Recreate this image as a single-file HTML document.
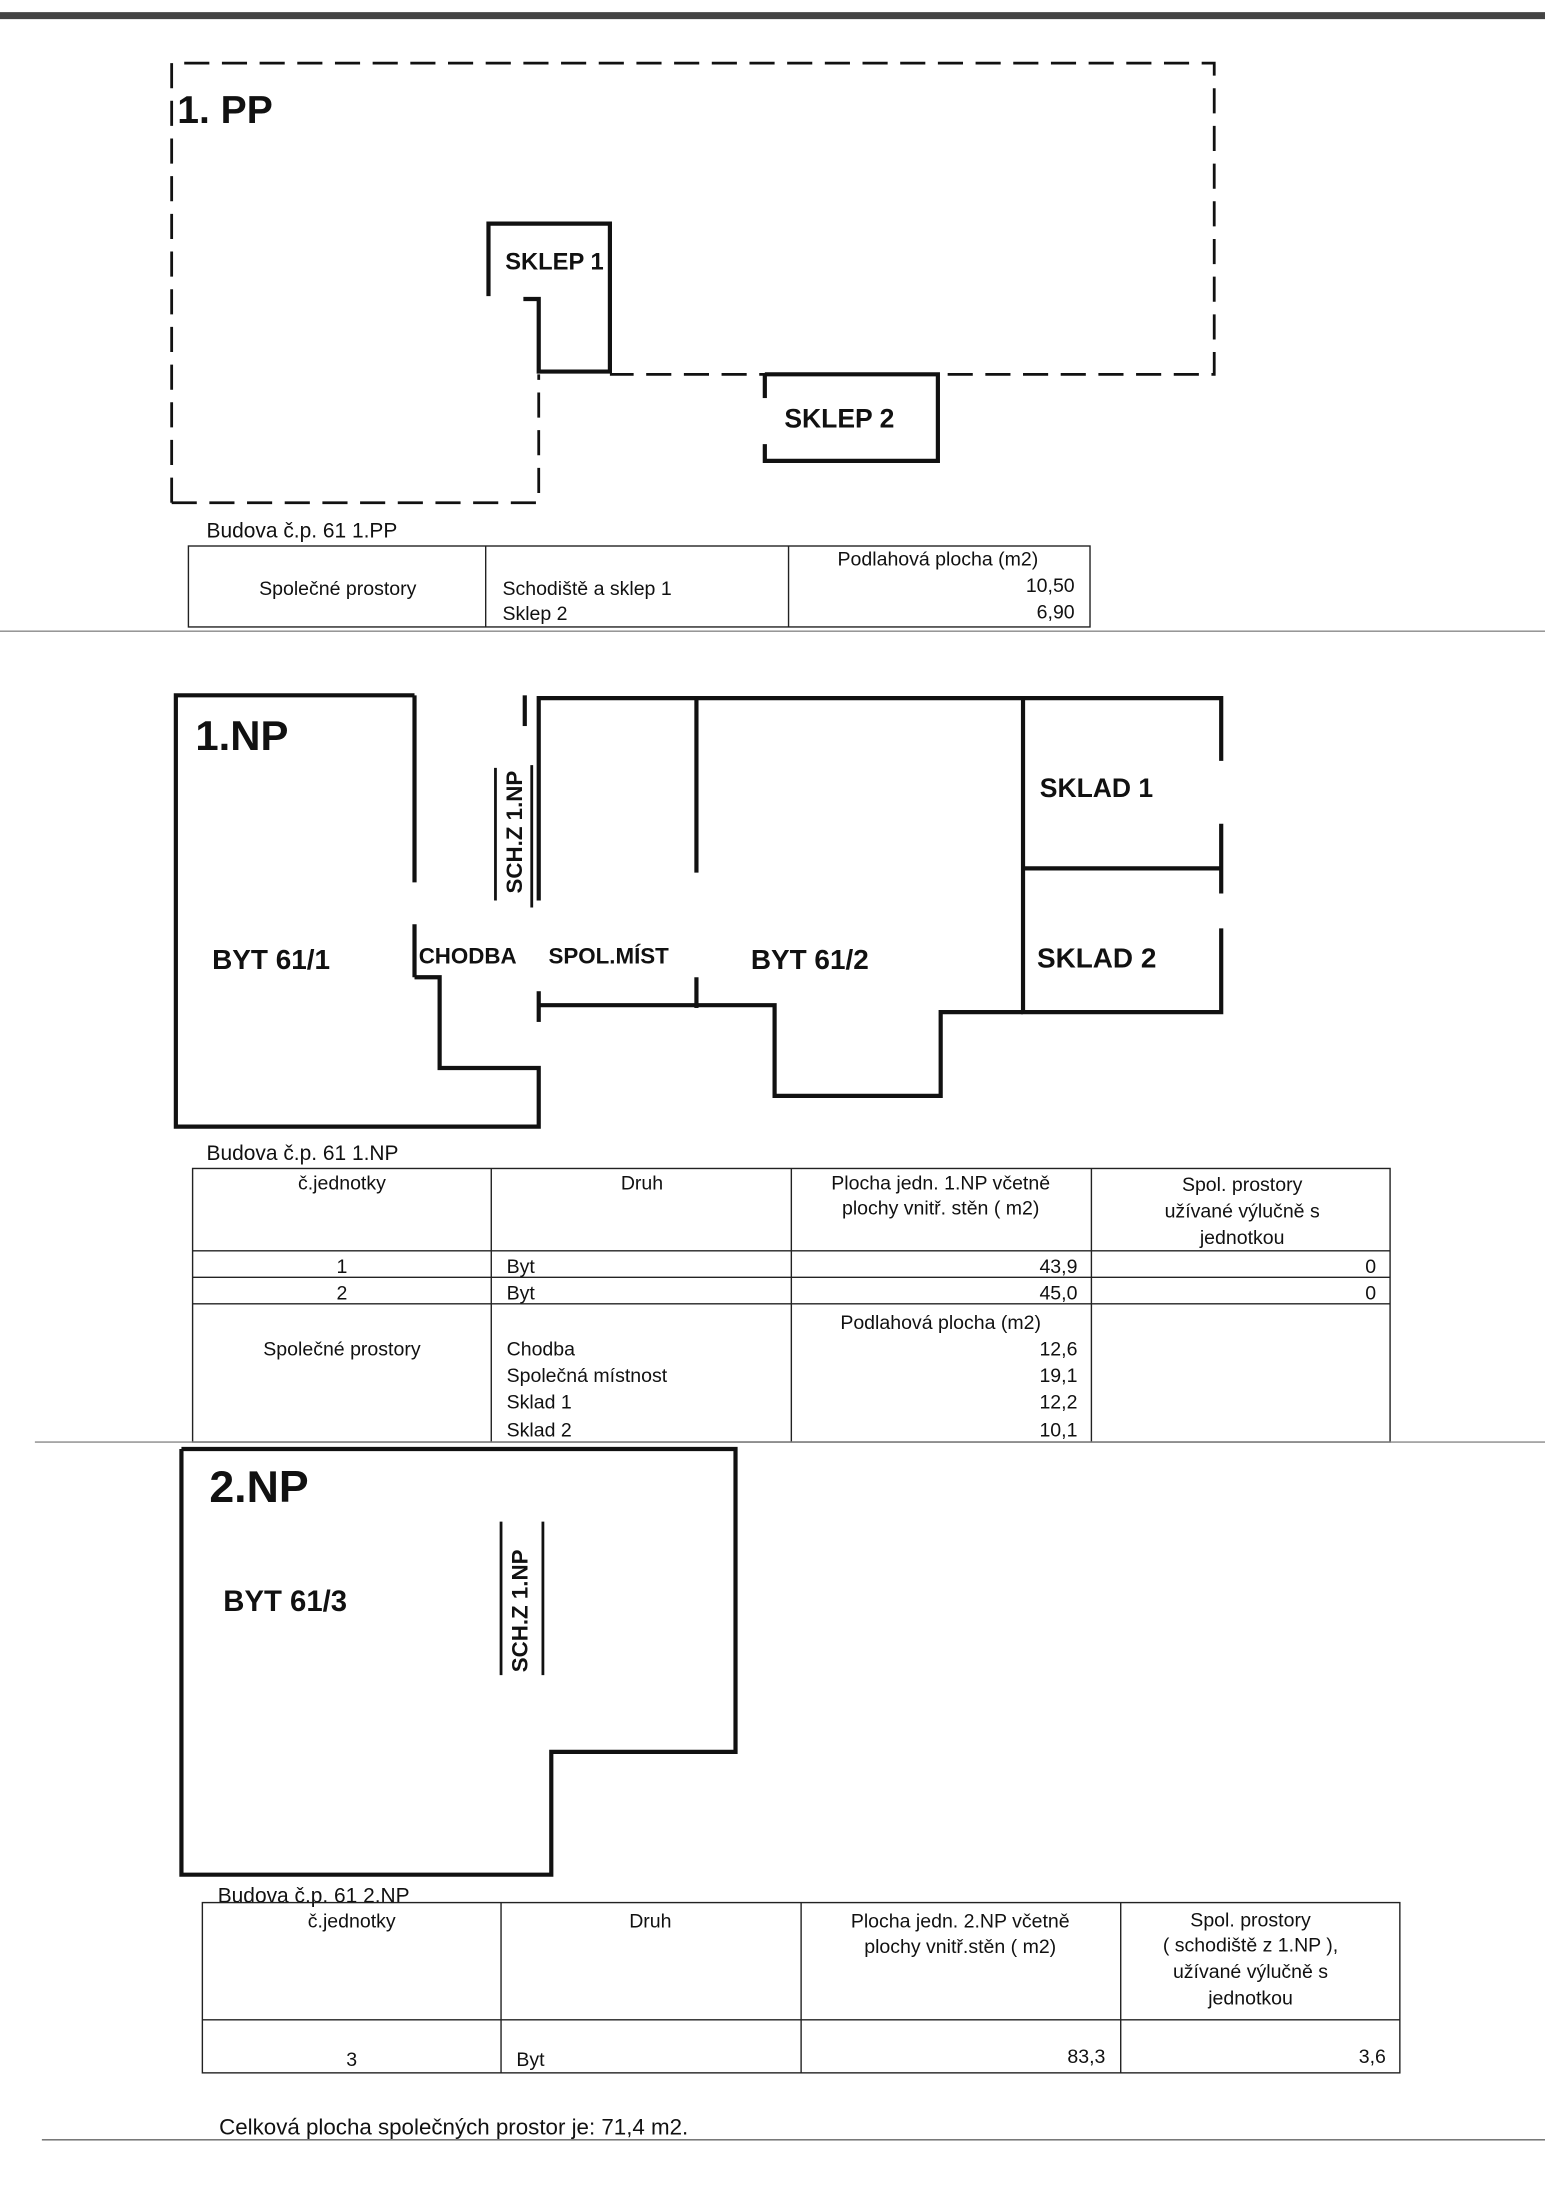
<!DOCTYPE html>
<html><head><meta charset="utf-8"><style>
html,body{margin:0;padding:0;background:#fff;}
svg{display:block;}
text{font-family:"Liberation Sans",sans-serif;fill:#111;}
.h{font-family:"Liberation Sans Narrow","Liberation Sans",sans-serif;font-weight:bold;}
</style></head><body>
<svg width="1545" height="2189" viewBox="0 0 1107 1568" xmlns="http://www.w3.org/2000/svg">
<rect width="1107" height="1568" fill="#fff"/>
<line x1="0" y1="11" x2="1107" y2="11" stroke="#444" stroke-width="5"/>
<!-- 1.PP -->
<g fill="none" stroke="#111" stroke-width="2" stroke-dasharray="18,9">
<polyline points="123,360 123,45 870,45 870,268 437,268"/>
<polyline points="123,360 386,360 386,268"/>
</g>
<g fill="none" stroke="#111" stroke-width="3">
<polyline points="350,212 350,160 437,160 437,266 386,266 386,214 375,214"/>
<polyline points="548,268 672,268 672,330 548,330 548,318"/>
<line x1="548" y1="268" x2="548" y2="285"/>
</g>
<text x="127" y="88" class="h" font-size="28">1. PP</text>
<text x="362" y="193" class="h" font-size="17">SKLEP 1</text>
<text x="562" y="306" class="h" font-size="19">SKLEP 2</text>
<text x="148" y="385" font-size="15">Budova č.p.  61   1.PP</text>
<g fill="none" stroke="#222" stroke-width="1">
<rect x="135" y="391" width="646" height="58"/>
<line x1="348" y1="391" x2="348" y2="449"/><line x1="565" y1="391" x2="565" y2="449"/>
</g>
<g font-size="14">
<text x="242" y="426" text-anchor="middle">Společné prostory</text>
<text x="360" y="426">Schodiště a sklep 1</text>
<text x="360" y="444">Sklep 2</text>
<text x="672" y="405" text-anchor="middle">Podlahová plocha (m2)</text>
<text x="770" y="424" text-anchor="end">10,50</text>
<text x="770" y="443" text-anchor="end">6,90</text>
</g>
<line x1="0" y1="452" x2="1107" y2="452" stroke="#888" stroke-width="1"/>
<!-- 1.NP -->
<g fill="none" stroke="#111" stroke-width="3">
<polyline points="297,498 126,498 126,807 386,807 386,765 315,765 315,700 297,700"/>
<line x1="297" y1="498" x2="297" y2="632"/>
<line x1="297" y1="662" x2="297" y2="700"/>
<polyline points="386,645 386,500 875,500 875,545"/>
<line x1="376" y1="498" x2="376" y2="520"/>
<line x1="875" y1="590" x2="875" y2="640"/>
<polyline points="875,665 875,725 733,725 733,500"/>
<line x1="733" y1="622" x2="875" y2="622"/>
<polyline points="733,725 674,725 674,785 555,785 555,720 386,720"/>
<line x1="386" y1="710" x2="386" y2="732"/>
<line x1="499" y1="500" x2="499" y2="625"/>
<line x1="499" y1="700" x2="499" y2="722"/>
</g>
<g stroke="#111" stroke-width="2"><line x1="355" y1="550" x2="355" y2="645"/><line x1="381" y1="548" x2="381" y2="650"/></g>
<text x="140" y="537" class="h" font-size="30">1.NP</text>
<text x="152" y="694" class="h" font-size="20">BYT 61/1</text>
<text x="300" y="690" class="h" font-size="16">CHODBA</text>
<text x="393" y="690" class="h" font-size="16">SPOL.MÍST</text>
<text x="538" y="694" class="h" font-size="20">BYT 61/2</text>
<text x="745" y="571" class="h" font-size="19">SKLAD 1</text>
<text x="743" y="693" class="h" font-size="20">SKLAD 2</text>
<text transform="translate(374,640) rotate(-90)" class="h" font-size="16">SCH.Z 1.NP</text>
<text x="148" y="831" font-size="15">Budova č.p.  61   1.NP</text>
<g fill="none" stroke="#222" stroke-width="1">
<rect x="138" y="837" width="858" height="196"/>
<line x1="352" y1="837" x2="352" y2="1033"/><line x1="567" y1="837" x2="567" y2="1033"/><line x1="782" y1="837" x2="782" y2="1033"/>
<line x1="138" y1="896" x2="996" y2="896"/><line x1="138" y1="915" x2="996" y2="915"/><line x1="138" y1="934" x2="996" y2="934"/>
</g>
<g font-size="14">
<text x="245" y="852" text-anchor="middle">č.jednotky</text>
<text x="460" y="852" text-anchor="middle">Druh</text>
<text x="674" y="852" text-anchor="middle">Plocha jedn. 1.NP včetně</text>
<text x="674" y="870" text-anchor="middle">plochy vnitř. stěn ( m2)</text>
<text x="890" y="853" text-anchor="middle">Spol. prostory</text>
<text x="890" y="872" text-anchor="middle">užívané  výlučně s</text>
<text x="890" y="891" text-anchor="middle">jednotkou</text>
<text x="245" y="912" text-anchor="middle">1</text><text x="363" y="912">Byt</text><text x="772" y="912" text-anchor="end">43,9</text><text x="986" y="912" text-anchor="end">0</text>
<text x="245" y="931" text-anchor="middle">2</text><text x="363" y="931">Byt</text><text x="772" y="931" text-anchor="end">45,0</text><text x="986" y="931" text-anchor="end">0</text>
<text x="245" y="971" text-anchor="middle">Společné prostory</text>
<text x="674" y="952" text-anchor="middle">Podlahová plocha (m2)</text>
<text x="363" y="971">Chodba</text><text x="772" y="971" text-anchor="end">12,6</text>
<text x="363" y="990">Společná místnost</text><text x="772" y="990" text-anchor="end">19,1</text>
<text x="363" y="1009">Sklad 1</text><text x="772" y="1009" text-anchor="end">12,2</text>
<text x="363" y="1029">Sklad 2</text><text x="772" y="1029" text-anchor="end">10,1</text>
</g>
<line x1="25" y1="1033" x2="1107" y2="1033" stroke="#888" stroke-width="1"/>
<!-- 2.NP -->
<g fill="none" stroke="#111" stroke-width="3">
<polyline points="130,1038 527,1038 527,1255 395,1255 395,1343 130,1343 130,1038"/>
</g>
<g stroke="#111" stroke-width="2"><line x1="359" y1="1090" x2="359" y2="1200"/><line x1="389" y1="1090" x2="389" y2="1200"/></g>
<text x="150" y="1076" class="h" font-size="32">2.NP</text>
<text x="160" y="1154" class="h" font-size="21">BYT 61/3</text>
<text transform="translate(378,1198) rotate(-90)" class="h" font-size="16">SCH.Z 1.NP</text>
<text x="156" y="1363" font-size="15">Budova č.p.  61   2.NP</text>
<g fill="none" stroke="#222" stroke-width="1">
<rect x="145" y="1363" width="858" height="122"/>
<line x1="359" y1="1363" x2="359" y2="1485"/><line x1="574" y1="1363" x2="574" y2="1485"/><line x1="803" y1="1363" x2="803" y2="1485"/>
<line x1="145" y1="1447" x2="1003" y2="1447"/>
</g>
<g font-size="14">
<text x="252" y="1381" text-anchor="middle">č.jednotky</text>
<text x="466" y="1381" text-anchor="middle">Druh</text>
<text x="688" y="1381" text-anchor="middle">Plocha jedn. 2.NP včetně</text>
<text x="688" y="1399" text-anchor="middle">plochy vnitř.stěn ( m2)</text>
<text x="896" y="1380" text-anchor="middle">Spol. prostory</text>
<text x="896" y="1398" text-anchor="middle">( schodiště z 1.NP ),</text>
<text x="896" y="1417" text-anchor="middle">užívané  výlučně s</text>
<text x="896" y="1436" text-anchor="middle">jednotkou</text>
<text x="252" y="1480" text-anchor="middle">3</text><text x="370" y="1480">Byt</text>
<text x="792" y="1478" text-anchor="end">83,3</text><text x="993" y="1478" text-anchor="end">3,6</text>
</g>
<text x="157" y="1529" font-size="16">Celková plocha společných prostor je:  71,4 m2.</text>
<line x1="30" y1="1533" x2="1107" y2="1533" stroke="#666" stroke-width="1"/>
</svg>
</body></html>
